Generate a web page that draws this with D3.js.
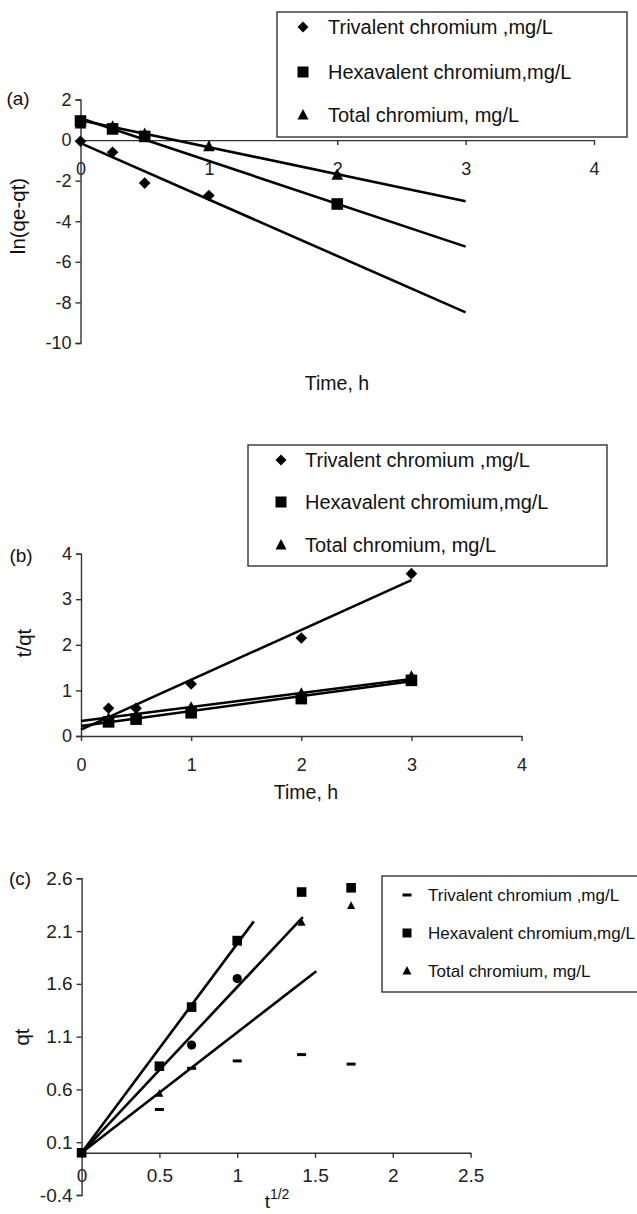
<!DOCTYPE html>
<html>
<head>
<meta charset="utf-8">
<script src="https://cdn.jsdelivr.net/npm/d3@7"></script>
<style>
  html, body { margin: 0; padding: 0; background: #fff; }
  svg { display: block; font-family: "Liberation Sans", Arial, sans-serif; }
</style>
</head>
<body>
<script>
// ---------- Series names ----------
const seriesNames = ["Trivalent chromium ,mg/L", "Hexavalent chromium,mg/L", "Total chromium, mg/L"];

// ---------- (a) pseudo-first-order: ln(qe-qt) vs time ----------
const timeA = [0, 0.25, 0.5, 1, 2];
const lnTrivalent = [-0.06, -0.6, -2.12, -2.73, null];
const lnHexavalent = [0.94, 0.55, 0.18, null, -3.15];
const lnTotal = [0.8, 0.66, 0.3, -0.32, -1.72];
const fitA_intercept = [-0.15, 1.08, 0.98];
const fitA_slope = [-2.78, -2.11, -1.33];
const fitA_range = [0, 3];
const ticksAx = [0, 1, 2, 3, 4];
const ticksAy = [-10, -8, -6, -4, -2, 0, 2];

// ---------- (b) pseudo-second-order: t/qt vs time ----------
const timeB = [0.25, 0.5, 1, 2, 3];
const tqTrivalent = [0.61, 0.61, 1.14, 2.15, 3.56];
const tqHexavalent = [0.31, 0.37, 0.51, 0.82, 1.22];
const tqTotal = [0.38, 0.46, 0.62, 0.93, 1.3];
const fitB_intercept = [0.14, 0.22, 0.33];
const fitB_slope = [1.093, 0.327, 0.307];
const fitB_range = [0, 3];
const ticksBx = [0, 1, 2, 3, 4];
const ticksBy = [0, 1, 2, 3, 4];

// ---------- (c) intraparticle diffusion: qt vs t^1/2 ----------
const sqrtT = [0, 0.5, 0.707, 1, 1.414, 1.732];
const qtTrivalent = [0, 0.41, 0.8, 0.87, 0.93, 0.84];
const qtHexavalent = [0, 0.82, 1.38, 2.01, 2.47, 2.51];
const qtTotal = [0, 0.56, null, null, 2.18, 2.34];
const qtTotalMid = [null, null, 1.02, 1.65, null, null];
const qtCross = [0, null, 1.38, 2.0, null, null];
const fitC_slope = [1.14, 1.98, 1.57];
const fitC_end = [1.508, 1.107, 1.422];
const ticksCx = [0, 0.5, 1, 1.5, 2, 2.5];
const ticksCy = [-0.4, 0.1, 0.6, 1.1, 1.6, 2.1, 2.6];

const W = 637, H = 1214;
const svg = d3.select("body").append("svg").attr("width", W).attr("height", H);

// plain hyphen-minus labels, as in a spreadsheet chart
const fmtInt = d => String(d);
const fmtOne = d => d.toFixed(1);
const fmtPlain = d => String(d);

// ---------- marker helpers ----------
function marker(g, type, x, y, s) {
  if (type === "diamond") {
    g.append("path").attr("d", `M${x},${y - s}L${x + s},${y}L${x},${y + s}L${x - s},${y}Z`).attr("fill", "#000");
  } else if (type === "square") {
    g.append("rect").attr("x", x - s).attr("y", y - s).attr("width", 2 * s).attr("height", 2 * s).attr("fill", "#000");
  } else if (type === "triangle") {
    g.append("path").attr("d", `M${x},${y - s * 1.1}L${x + s},${y + s * 0.8}L${x - s},${y + s * 0.8}Z`).attr("fill", "#000");
  } else if (type === "dash") {
    g.append("rect").attr("x", x - s).attr("y", y - 1.5).attr("width", 2 * s).attr("height", 3).attr("fill", "#000");
  } else if (type === "circle") {
    g.append("circle").attr("cx", x).attr("cy", y).attr("r", s).attr("fill", "#000");
  } else if (type === "cross") {
    g.append("path").attr("d", `M${x - s},${y - s}L${x + s},${y + s}M${x - s},${y + s}L${x + s},${y - s}`)
      .attr("stroke", "#000").attr("stroke-width", 1.6).attr("fill", "none");
  }
}

function styleAxis(g, fontSize) {
  g.select(".domain").attr("stroke", "#333").attr("stroke-width", 1.4);
  g.selectAll(".tick line").attr("stroke", "#333").attr("stroke-width", 1.4);
  g.selectAll(".tick text").attr("fill", "#222").attr("font-size", fontSize).attr("font-family", "Liberation Sans, Arial, sans-serif");
}

function legend(g, box, rows, markers, ms, fontSize) {
  g.append("rect").attr("x", box.x).attr("y", box.y).attr("width", box.w).attr("height", box.h)
    .attr("fill", "#fff").attr("stroke", "#333").attr("stroke-width", 1.4);
  rows.forEach((r, i) => {
    marker(g, markers[i], box.mx, r, ms);
    g.append("text").attr("x", box.tx).attr("y", r).attr("dy", "0.35em")
      .attr("font-size", fontSize).attr("fill", "#111").text(seriesNames[i]);
  });
}

function fitLine(g, x, y, x0, x1, b, m) {
  g.append("line")
    .attr("x1", x(x0)).attr("y1", y(b + m * x0))
    .attr("x2", x(x1)).attr("y2", y(b + m * x1))
    .attr("stroke", "#000").attr("stroke-width", 2.6);
}

// ================= Panel (a) =================
{
  const g = svg.append("g");
  const x = d3.scaleLinear().domain([0, 4]).range([80.5, 594]);
  const y = d3.scaleLinear().domain([-10, 2]).range([343, 99.5]);

  const gy = g.append("g").attr("transform", `translate(${x(0)},0)`)
    .call(d3.axisLeft(y).tickValues(ticksAy).tickSize(5).tickPadding(4).tickFormat(fmtInt));
  styleAxis(gy, 18);
  const gx = g.append("g").attr("transform", `translate(0,${y(0)})`)
    .call(d3.axisBottom(x).tickValues(ticksAx).tickSize(5).tickPadding(17).tickSizeOuter(0).tickFormat(fmtInt));
  styleAxis(gx, 18);

  fitA_intercept.forEach((b, i) => fitLine(g, x, y, fitA_range[0], fitA_range[1], b, fitA_slope[i]));

  const sets = [[lnTrivalent, "diamond"], [lnHexavalent, "square"], [lnTotal, "triangle"]];
  sets.forEach(([vals, t]) => vals.forEach((v, i) => { if (v !== null) marker(g, t, x(timeA[i]), y(v), 5.8); }));

  g.append("text").attr("x", 337).attr("y", 383).attr("dy", "0.35em").attr("text-anchor", "middle")
    .attr("font-size", 19.5).attr("fill", "#111").text("Time, h");
  g.append("text").attr("transform", "translate(18,216) rotate(-90)").attr("dy", "0.35em").attr("text-anchor", "middle")
    .attr("font-size", 20.5).attr("fill", "#111").text("ln(qe-qt)");
  g.append("text").attr("x", 18).attr("y", 98).attr("dy", "0.35em").attr("text-anchor", "middle")
    .attr("font-size", 19).attr("fill", "#111").text("(a)");

  legend(g, { x: 277, y: 12, w: 350, h: 125, mx: 303, tx: 328 }, [27, 72, 115], ["diamond", "square", "triangle"], 5.5, 20);
}

// ================= Panel (b) =================
{
  const g = svg.append("g");
  const x = d3.scaleLinear().domain([0, 4]).range([81, 521.6]);
  const y = d3.scaleLinear().domain([0, 4]).range([736, 553.6]);

  const gy = g.append("g").attr("transform", `translate(${x(0)},0)`)
    .call(d3.axisLeft(y).tickValues(ticksBy).tickSize(5).tickPadding(4).tickFormat(fmtInt));
  styleAxis(gy, 18);
  const gx = g.append("g").attr("transform", `translate(0,${y(0)})`)
    .call(d3.axisBottom(x).tickValues(ticksBx).tickSize(5).tickPadding(17).tickSizeOuter(0).tickFormat(fmtInt));
  styleAxis(gx, 18);

  fitB_intercept.forEach((b, i) => fitLine(g, x, y, fitB_range[0], fitB_range[1], b, fitB_slope[i]));

  const sets = [[tqTrivalent, "diamond"], [tqHexavalent, "square"], [tqTotal, "triangle"]];
  sets.forEach(([vals, t]) => vals.forEach((v, i) => { if (v !== null) marker(g, t, x(timeB[i]), y(v), 5.8); }));

  g.append("text").attr("x", 306).attr("y", 792).attr("dy", "0.35em").attr("text-anchor", "middle")
    .attr("font-size", 19.5).attr("fill", "#111").text("Time, h");
  g.append("text").attr("transform", "translate(24,643) rotate(-90)").attr("dy", "0.35em").attr("text-anchor", "middle")
    .attr("font-size", 20.5).attr("fill", "#111").text("t/qt");
  g.append("text").attr("x", 21).attr("y", 555).attr("dy", "0.35em").attr("text-anchor", "middle")
    .attr("font-size", 19).attr("fill", "#111").text("(b)");

  legend(g, { x: 248, y: 445, w: 359, h: 121, mx: 281, tx: 305 }, [460, 502, 545], ["diamond", "square", "triangle"], 5.5, 20);
}

// ================= Panel (c) =================
{
  const g = svg.append("g");
  const x = d3.scaleLinear().domain([0, 2.5]).range([81.6, 470.6]);
  const y = d3.scaleLinear().domain([-0.4, 2.6]).range([1195, 878.3]);

  const gy = g.append("g").attr("transform", `translate(${x(0)},0)`)
    .call(d3.axisLeft(y).tickValues(ticksCy).tickSize(5).tickPadding(4).tickFormat(fmtOne));
  styleAxis(gy, 19);
  const gx = g.append("g").attr("transform", `translate(0,${y(0)})`)
    .call(d3.axisBottom(x).tickValues(ticksCx).tickSize(5).tickPadding(11).tickSizeOuter(0).tickFormat(fmtPlain));
  styleAxis(gx, 19);

  fitC_slope.forEach((m, i) => fitLine(g, x, y, 0, fitC_end[i], 0, m));

  const sets = [[qtTrivalent, "dash", 4.5], [qtHexavalent, "square", 4.8], [qtTotal, "triangle", 4], [qtTotalMid, "circle", 4.6], [qtCross, "cross", 4]];
  sets.forEach(([vals, t, s]) => vals.forEach((v, i) => { if (v !== null) marker(g, t, x(sqrtT[i]), y(v), s); }));

  const tl = g.append("text").attr("x", 277).attr("y", 1208).attr("text-anchor", "middle")
    .attr("font-size", 19).attr("fill", "#111");
  tl.append("tspan").text("t");
  tl.append("tspan").attr("dy", -9).attr("font-size", 14).text("1/2");
  g.append("text").attr("transform", "translate(22,1037) rotate(-90)").attr("dy", "0.35em").attr("text-anchor", "middle")
    .attr("font-size", 20.5).attr("fill", "#111").text("qt");
  g.append("text").attr("x", 20).attr("y", 878).attr("dy", "0.35em").attr("text-anchor", "middle")
    .attr("font-size", 19).attr("fill", "#111").text("(c)");

  legend(g, { x: 382, y: 876, w: 262, h: 116, mx: 407, tx: 428 }, [895, 933, 971], ["dash", "square", "triangle"], 4.5, 17);
}
</script>
</body>
</html>
